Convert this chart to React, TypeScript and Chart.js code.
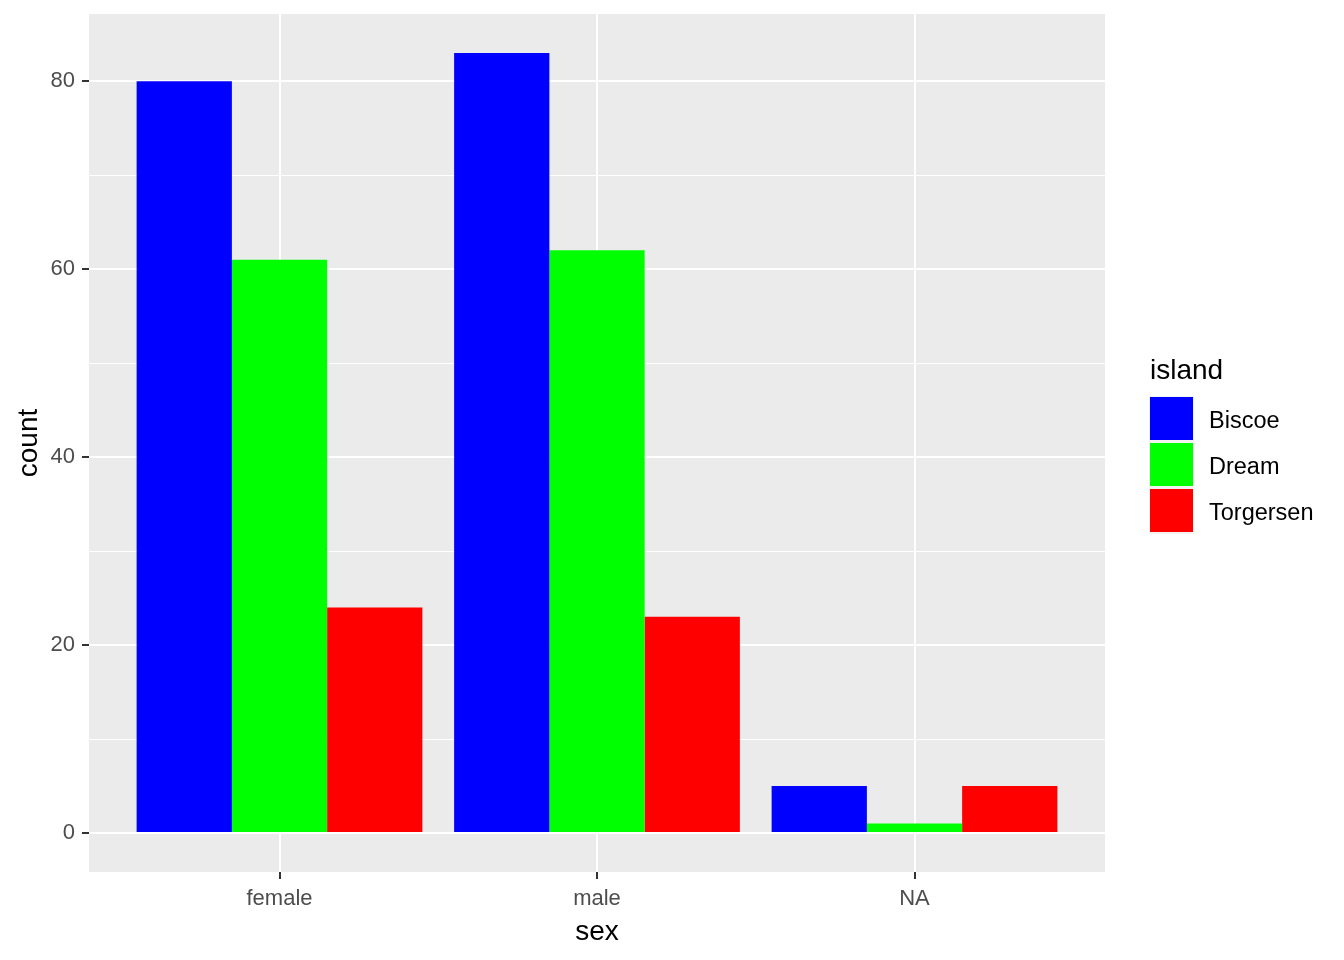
import React, { useEffect, useRef } from "react";
import { Chart, registerables } from "chart.js";

Chart.register(...registerables);

const categories = ["female", "male", "NA"];
const islands = ["Biscoe", "Dream", "Torgersen"];
const biscoe = [80, 83, 5];
const dream = [61, 62, 1];
const torgersen = [24, 23, 5];
const islandColors = ["#0000FF", "#00FF00", "#FF0000"];
const yTicks = [0, 10, 20, 30, 40, 50, 60, 70, 80];
const yLabelTicks = [0, 20, 40, 60, 80];

const FONT = "'Liberation Sans', Arial, sans-serif";

const panelBg = {
  id: "panelBg",
  beforeDraw(chart: any) {
    const { ctx, chartArea } = chart;
    ctx.save();
    ctx.fillStyle = "#EBEBEB";
    ctx.fillRect(chartArea.left, chartArea.top, chartArea.right - chartArea.left, chartArea.bottom - chartArea.top);
    ctx.restore();
  },
};

const ggLegend = {
  id: "ggLegend",
  afterDraw(chart: any) {
    const { ctx } = chart;
    ctx.save();
    ctx.fillStyle = "#000000";
    ctx.font = `28px ${FONT}`;
    ctx.textAlign = "left";
    ctx.textBaseline = "alphabetic";
    ctx.fillText("island", 1150, 379);
    const x0 = 1149;
    const y0 = 396;
    const w = 45;
    const h = 46;
    chart.data.datasets.forEach((ds: any, i: number) => {
      const y = y0 + i * h;
      ctx.fillStyle = "#F2F2F2";
      ctx.fillRect(x0, y, w, h);
      ctx.fillStyle = ds.backgroundColor;
      ctx.fillRect(x0 + 1, y + 1, w - 2, h - 3);
      ctx.fillStyle = "#000000";
      ctx.font = `23.5px ${FONT}`;
      ctx.textBaseline = "middle";
      ctx.fillText(ds.label, 1209, y + h / 2 + 3);
    });
    ctx.restore();
  },
};

export default function App() {
  const ref = useRef<HTMLCanvasElement | null>(null);
  useEffect(() => {
    if (!ref.current) return;
    const series = [biscoe, dream, torgersen];
    const chart = new Chart(ref.current, {
      type: "bar",
      data: {
        datasets: series.map((vals, si) => ({
          label: islands[si],
          data: vals.map((v, i) => ({ x: i, y: v })),
          backgroundColor: islandColors[si],
          borderWidth: 0,
          categoryPercentage: 0.9,
          barPercentage: 1.0,
        })),
      },
      options: {
        responsive: false,
        animation: false,
        layout: { padding: { top: 14, right: 239, left: 0, bottom: 0 } },
        plugins: { legend: { display: false }, tooltip: { enabled: false } },
        scales: {
          x: {
            type: "linear",
            min: -0.6,
            max: 2.6,
            offset: false,
            afterBuildTicks: (s: any) => {
              s.ticks = categories.map((_, i) => ({ value: i }));
            },
            afterFit: (s: any) => {
              s.height = 88;
              s.paddingLeft = 0;
              s.paddingRight = 0;
            },
            grid: {
              offset: false,
              color: "#FFFFFF",
              lineWidth: 2,
              drawTicks: true,
              tickLength: 7,
              tickColor: "#333333",
              tickWidth: 2,
            },
            border: { display: false },
            ticks: {
              autoSkip: false,
              maxRotation: 0,
              padding: 7,
              color: "#4D4D4D",
              font: { family: FONT, size: 22 },
              callback: (v: any) => categories[Math.round(Number(v))] ?? "",
            },
            title: {
              display: true,
              text: "sex",
              color: "#000000",
              font: { family: FONT, size: 28 },
              padding: { top: 0, bottom: 11 },
            },
          },
          y: {
            type: "linear",
            min: -4.15,
            max: 87.15,
            afterBuildTicks: (s: any) => {
              s.ticks = yTicks.map((v) => ({ value: v }));
            },
            afterFit: (s: any) => {
              s.width = 89;
              s.paddingTop = 0;
              s.paddingBottom = 0;
            },
            grid: {
              color: "#FFFFFF",
              lineWidth: (c: any) => (c.tick && c.tick.value % 20 === 0 ? 2 : 1),
              drawTicks: true,
              tickLength: 7,
              tickColor: (c: any) => (c.tick && c.tick.value % 20 === 0 ? "#333333" : "rgba(0,0,0,0)"),
              tickWidth: 2,
            },
            border: { display: false },
            ticks: {
              autoSkip: false,
              padding: 7,
              color: "#4D4D4D",
              font: { family: FONT, size: 22 },
              callback: (v: any) => (yLabelTicks.includes(Number(v)) ? String(v) : ""),
            },
            title: {
              display: true,
              text: "count",
              color: "#000000",
              font: { family: FONT, size: 28 },
              padding: { top: 12, bottom: 0 },
            },
          },
        },
      } as any,
      plugins: [panelBg, ggLegend],
    });
    return () => chart.destroy();
  }, []);
  return (
    <div style={{ position: "absolute", left: 0, top: 0, width: 1344, height: 960, background: "#FFFFFF" }}>
      <canvas ref={ref} width={1344} height={960} style={{ display: "block" }} />
    </div>
  );
}
